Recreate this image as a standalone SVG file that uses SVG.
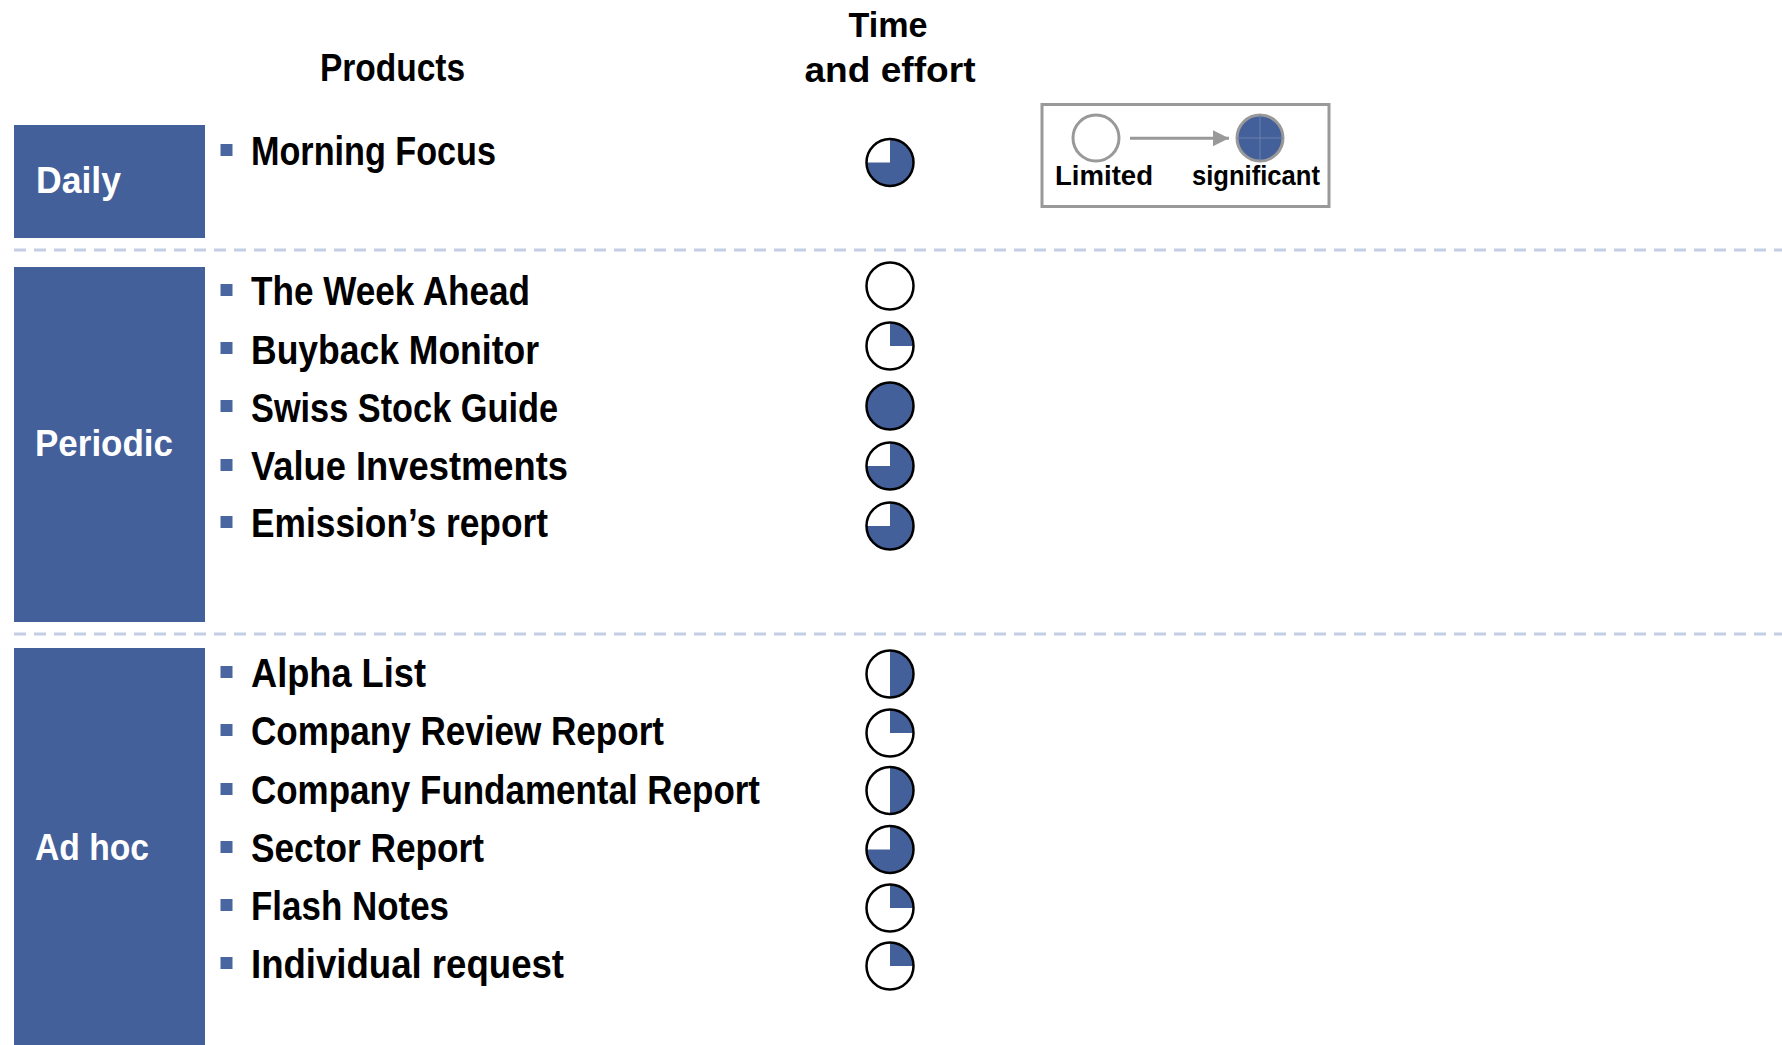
<svg xmlns="http://www.w3.org/2000/svg" xmlns:xlink="http://www.w3.org/1999/xlink" width="1782" height="1045" viewBox="0 0 1782 1045">
<style>
  text { font-family: "Liberation Sans Narrow", "Liberation Sans", Arial, sans-serif; font-weight: bold; }
  .hdr { font-size: 38px; fill: #000; }
  .hdr2 { font-size: 35px; fill: #000; text-anchor: middle; }
  .item { font-size: 41px; fill: #000; }
  .lbl { font-size: 37px; fill: #fff; }
  .leg { font-size: 28px; fill: #000; }
  .band { fill: #44609a; }
  .bullet { fill: #4a66a0; }
  .sep { stroke: #c3cde3; stroke-width: 3; stroke-dasharray: 12 8; fill: none; }
  .ring { fill: none; stroke: #000; stroke-width: 2.5; }
  .bg { fill: #fff; }
  .pf { fill: #44609a; }
</style>
<defs>
  <g id="pie-empty">
    <circle class="bg" r="23.5"/>
    <circle class="ring" r="23.5"/>
  </g>
  <g id="pie-q">
    <circle class="bg" r="23.5"/>
    <path class="pf" d="M0 0 L0 -23.5 A23.5 23.5 0 0 1 23.5 0 Z"/>
    <circle class="ring" r="23.5"/>
  </g>
  <g id="pie-half">
    <circle class="bg" r="23.5"/>
    <path class="pf" d="M0 -23.5 A23.5 23.5 0 0 1 0 23.5 Z"/>
    <circle class="ring" r="23.5"/>
  </g>
  <g id="pie-3q">
    <circle class="bg" r="23.5"/>
    <path class="pf" d="M0 0 L0 -23.5 A23.5 23.5 0 1 1 -23.5 0 Z"/>
    <circle class="ring" r="23.5"/>
  </g>
  <g id="pie-full">
    <circle class="pf" r="23.5"/>
    <circle class="ring" r="23.5"/>
  </g>
  <marker id="arrow" viewBox="0 0 10 10" refX="10" refY="5" markerWidth="5.5" markerHeight="5.5" markerUnits="strokeWidth" orient="auto">
    <path d="M0 0 L10 5 L0 10 Z" fill="#999"/>
  </marker>
</defs>

<rect width="1782" height="1045" fill="#fff"/>

<g id="headers">
  <text class="hdr" x="320" y="81" textLength="145" lengthAdjust="spacingAndGlyphs">Products</text>
  <text class="hdr2" x="888" y="37" textLength="79" lengthAdjust="spacingAndGlyphs">Time</text>
  <text class="hdr2" x="890" y="82" textLength="171" lengthAdjust="spacingAndGlyphs">and effort</text>
</g>

<g id="separators">
  <line class="sep" x1="14" y1="250" x2="1782" y2="250"/>
  <line class="sep" x1="14" y1="634" x2="1782" y2="634"/>
</g>

<g id="cat-daily">
  <rect class="band" x="14" y="125" width="191" height="113"/>
  <text class="lbl" x="36" y="193" textLength="85" lengthAdjust="spacingAndGlyphs">Daily</text>
</g>
<g id="cat-periodic">
  <rect class="band" x="14" y="267" width="191" height="355"/>
  <text class="lbl" x="35" y="456" textLength="138" lengthAdjust="spacingAndGlyphs">Periodic</text>
</g>
<g id="cat-adhoc">
  <rect class="band" x="14" y="648" width="191" height="397"/>
  <text class="lbl" x="35" y="860" textLength="114" lengthAdjust="spacingAndGlyphs">Ad hoc</text>
</g>

<g id="row-morning-focus">
  <rect class="bullet" x="220.5" y="144" width="12" height="12"/>
  <text class="item" x="251" y="165" textLength="245" lengthAdjust="spacingAndGlyphs">Morning Focus</text>
  <use xlink:href="#pie-3q" x="890" y="162.5"/>
</g>
<g id="row-week-ahead">
  <rect class="bullet" x="220.5" y="284" width="12" height="12"/>
  <text class="item" x="251" y="305" textLength="279" lengthAdjust="spacingAndGlyphs">The Week Ahead</text>
  <use xlink:href="#pie-empty" x="890" y="286"/>
</g>
<g id="row-buyback-monitor">
  <rect class="bullet" x="220.5" y="342" width="12" height="12"/>
  <text class="item" x="251" y="363.5" textLength="288" lengthAdjust="spacingAndGlyphs">Buyback Monitor</text>
  <use xlink:href="#pie-q" x="890" y="346"/>
</g>
<g id="row-swiss-stock-guide">
  <rect class="bullet" x="220.5" y="400" width="12" height="12"/>
  <text class="item" x="251" y="421.5" textLength="307" lengthAdjust="spacingAndGlyphs">Swiss Stock Guide</text>
  <use xlink:href="#pie-full" x="890" y="406"/>
</g>
<g id="row-value-investments">
  <rect class="bullet" x="220.5" y="459" width="12" height="12"/>
  <text class="item" x="251" y="480" textLength="317" lengthAdjust="spacingAndGlyphs">Value Investments</text>
  <use xlink:href="#pie-3q" x="890" y="466"/>
</g>
<g id="row-emission-report">
  <rect class="bullet" x="220.5" y="516" width="12" height="12"/>
  <text class="item" x="251" y="537" textLength="297" lengthAdjust="spacingAndGlyphs">Emission’s report</text>
  <use xlink:href="#pie-3q" x="890" y="526"/>
</g>

<g id="row-alpha-list">
  <rect class="bullet" x="220.5" y="666" width="12" height="12"/>
  <text class="item" x="251" y="687" textLength="175" lengthAdjust="spacingAndGlyphs">Alpha List</text>
  <use xlink:href="#pie-half" x="890" y="674"/>
</g>
<g id="row-company-review">
  <rect class="bullet" x="220.5" y="724" width="12" height="12"/>
  <text class="item" x="251" y="745" textLength="413" lengthAdjust="spacingAndGlyphs">Company Review Report</text>
  <use xlink:href="#pie-q" x="890" y="733"/>
</g>
<g id="row-company-fundamental">
  <rect class="bullet" x="220.5" y="783" width="12" height="12"/>
  <text class="item" x="251" y="804" textLength="509" lengthAdjust="spacingAndGlyphs">Company Fundamental Report</text>
  <use xlink:href="#pie-half" x="890" y="790.5"/>
</g>
<g id="row-sector-report">
  <rect class="bullet" x="220.5" y="841" width="12" height="12"/>
  <text class="item" x="251" y="862" textLength="233" lengthAdjust="spacingAndGlyphs">Sector Report</text>
  <use xlink:href="#pie-3q" x="890" y="849.5"/>
</g>
<g id="row-flash-notes">
  <rect class="bullet" x="220.5" y="899" width="12" height="12"/>
  <text class="item" x="251" y="920" textLength="198" lengthAdjust="spacingAndGlyphs">Flash Notes</text>
  <use xlink:href="#pie-q" x="890" y="908"/>
</g>
<g id="row-individual-request">
  <rect class="bullet" x="220.5" y="957" width="12" height="12"/>
  <text class="item" x="251" y="978" textLength="313" lengthAdjust="spacingAndGlyphs">Individual request</text>
  <use xlink:href="#pie-q" x="890" y="966"/>
</g>

<g id="legend">
  <rect x="1042" y="104.5" width="287" height="102" fill="#fff" stroke="#999" stroke-width="3"/>
  <g id="legend-limited">
    <circle cx="1096" cy="138" r="23" fill="#fff" stroke="#999" stroke-width="3"/>
    <text class="leg" x="1055" y="185" textLength="98" lengthAdjust="spacingAndGlyphs">Limited</text>
  </g>
  <g id="legend-significant">
    <circle cx="1260" cy="138" r="23" fill="#44609a" stroke="#999" stroke-width="3"/>
    <line x1="1237" y1="138" x2="1283" y2="138" stroke="#6a80ad" stroke-width="1"/>
    <line x1="1260" y1="115" x2="1260" y2="161" stroke="#6a80ad" stroke-width="1"/>
    <text class="leg" x="1192" y="185" textLength="128" lengthAdjust="spacingAndGlyphs">significant</text>
  </g>
</g>

<g id="connectors">
  <line x1="1130" y1="138.3" x2="1229" y2="138.3" stroke="#999" stroke-width="3" marker-end="url(#arrow)"/>
</g>
</svg>
